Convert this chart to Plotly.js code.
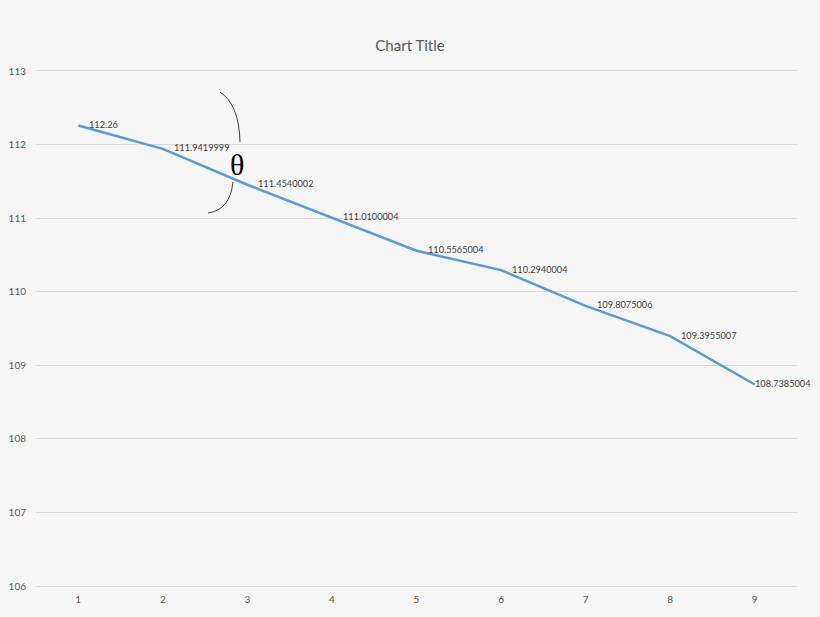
<!DOCTYPE html>
<html><head><meta charset="utf-8">
<script src="https://cdn.plot.ly/plotly-3.0.1.min.js"></script>
<style>html,body{margin:0;padding:0;background:#f5f5f5}</style>
</head><body>
<div id="chart" style="width:820px;height:617px"></div>
<script>
const categories = ["1","2","3","4","5","6","7","8","9"];
const values = [112.26, 111.9419999, 111.4540002, 111.0100004, 110.5565004, 110.2940004, 109.8075006, 109.3955007, 108.7385004];
const labels = ["112.26","111.9419999","111.4540002","111.0100004","110.5565004","110.2940004","109.8075006","109.3955007","108.7385004"];
const yTicks = [106,107,108,109,110,111,112,113];

const trace = {
  x: categories, y: values, type: 'scatter', mode: 'lines',
  line: {color: '#5B9BD5', width: 2.5},
  hoverinfo: 'none'
};
const last = categories.length - 1;
const labelAnnots = categories.map((c, i) => ({
  x: i, y: values[i], xref: 'x', yref: 'y', text: labels[i],
  xanchor: 'left', yanchor: 'middle', xshift: i === last ? -2 : 9, yshift: 1, showarrow: false,
  font: {family: 'Lato, sans-serif', size: 9.2, color: '#404040'}
}));
const layout = {
  width: 820, height: 617,
  paper_bgcolor: '#f5f5f5', plot_bgcolor: '#f5f5f5',
  margin: {l: 36, r: 23, t: 71, b: 31},
  showlegend: false,
  title: {text: 'Chart Title', x: 0.5, xanchor: 'center', y: 1 - 46/617, yanchor: 'middle',
    font: {family: 'Lato, sans-serif', size: 15, color: '#595959'}},
  xaxis: {type: 'category', range: [-0.5, 8.5], showgrid: false, zeroline: false,
    showline: true, mirror: true, linecolor: '#d9d9d9', linewidth: 1,
    ticks: '', ticklen: 0, ticklabelstandoff: 4,
    tickfont: {family: 'Lato, sans-serif', size: 10, color: '#595959'}},
  yaxis: {range: [106, 113], tickvals: yTicks, ticktext: yTicks.map(String),
    showgrid: true, gridcolor: '#d9d9d9', gridwidth: 1, zeroline: false,
    showline: false, ticks: '', ticklen: 0, ticklabelstandoff: 9,
    tickfont: {family: 'Lato, sans-serif', size: 10, color: '#595959'}},
  shapes: [
    {type: 'path', xref: 'paper', yref: 'paper',
     path: 'M 0.2418 0.9592 Q 0.2668 0.935 0.2681 0.8621', line: {color: '#404040', width: 1}},
    {type: 'path', xref: 'paper', yref: 'paper',
     path: 'M 0.2589 0.7845 Q 0.2549 0.7301 0.2260 0.7243', line: {color: '#404040', width: 1}}
  ],
  annotations: labelAnnots.concat([
    {text: 'θ', xref: 'paper', yref: 'paper', x: 0.2641, y: 0.8175, xanchor: 'center', yanchor: 'middle',
     showarrow: false, font: {family: 'Liberation Serif, serif', size: 30, color: '#000000'}}
  ])
};
Plotly.newPlot('chart', [trace], layout, {displayModeBar: false, staticPlot: true});
</script>
</body></html>
